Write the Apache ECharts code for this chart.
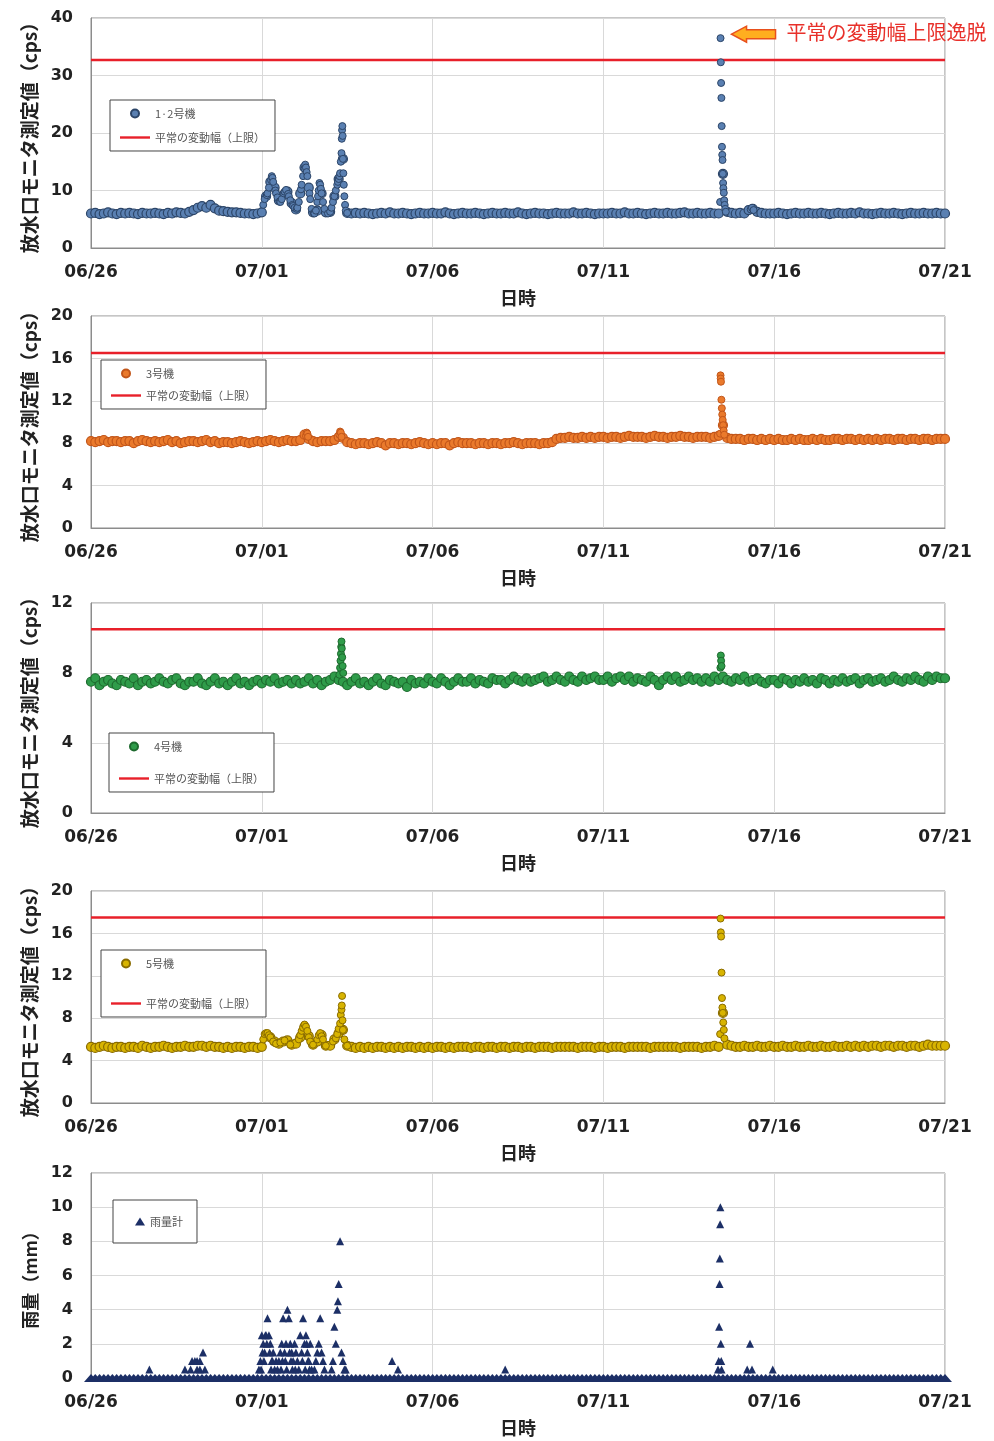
<!DOCTYPE html>
<html><head><meta charset="utf-8">
<script src="https://cdn.jsdelivr.net/npm/echarts@6/dist/echarts.min.js"></script>
<style>html,body{margin:0;padding:0;background:#fff}#c{width:994px;height:1441px}</style>
</head><body><div id="c"></div>
<script>
// x axis: hours from 06/26 00:00
const xTickLabels = ['06/26','07/01','07/06','07/11','07/16','07/21'];
const stepHours = 3; // spacing of the base readings below
const thresholdNames = '平常の変動幅（上限）';
const thresholds = [32.7, 16.5, 10.5, 17.5];
const seriesNames = ['1·2号機','3号機','4号機','5号機','雨量計'];

const unit12Base = [
6.0,6.1,5.9,6.0,6.2,6.0,5.9,6.1,
6.0,6.1,6.0,5.9,6.1,6.0,6.0,6.1,
6.0,5.9,6.1,6.0,6.2,6.1,6.0,6.3,
6.6,7.0,7.3,7.0,7.5,6.9,6.5,6.4,
6.3,6.2,6.2,6.1,6.0,6.0,5.9,6.0,
6.2,9.0,11.5,10.5,8.3,9.2,9.8,7.8,
6.7,9.5,14.0,10.5,6.2,6.5,9.5,6.2,
6.3,9.0,12.0,15.5,6.1,6.0,6.1,6.0,
6.1,6.0,5.9,6.0,6.1,6.0,6.2,6.0,
6.0,6.1,6.0,5.9,6.0,6.1,6.0,6.0,
6.1,6.0,6.0,6.2,6.0,5.9,6.0,6.1,
6.0,6.0,6.1,6.0,5.9,6.0,6.1,6.0,
6.0,6.1,6.0,6.0,6.2,6.0,5.9,6.0,
6.1,6.0,6.0,5.9,6.0,6.1,6.0,6.0,
6.0,6.2,6.0,6.0,6.1,6.0,5.9,6.0,
6.0,6.0,6.1,6.0,6.0,6.2,6.0,6.0,
6.1,6.0,5.9,6.0,6.1,6.0,6.0,6.1,
6.0,6.0,6.1,6.2,6.0,6.0,6.1,6.0,
6.0,6.1,6.0,6.0,12.9,6.3,6.1,6.0,
6.1,6.0,6.6,6.8,6.3,6.1,6.0,6.0,
6.0,6.1,6.0,5.9,6.0,6.1,6.0,6.0,
6.1,6.0,6.0,6.1,6.0,5.9,6.0,6.1,
6.0,6.0,6.1,6.0,6.2,6.0,6.0,5.9,
6.0,6.1,6.0,6.0,6.1,6.0,5.9,6.0,
6.1,6.0,6.0,6.1,6.0,6.0,6.1,6.0,
6.0];
const unit12Events = [[121,7.5],[122,8.5],[123.5,9.2],[124,9.5],[125,10.5],[126.5,11.8],[127,12.5],[127.5,12.2],[128,11.5],[129.5,10.0],[130,9.5],[131,8.8],[132.5,8.1],[133,8.0],[134,8.5],[135.5,9.5],[136,9.8],[137,10.1],[138.5,9.4],[139,9.0],[140,8.3],[141.5,7.5],[142,7.3],[143,7.0],[144.5,6.8],[145,7.0],[146,8.0],[147.5,10.2],[148,11.0],[149,12.5],[150,13.8],[150.5,14.5],[151,14.0],[151.5,13.2],[152,12.5],[153.5,9.5],[154,8.5],[155,6.8],[156.5,6.1],[157,6.0],[158,6.5],[159,8.0],[159.5,9.0],[160,10.0],[160.5,11.3],[161,11.0],[161.5,10.3],[162,9.5],[163,8.0],[164,6.8],[166.5,6.0],[168,6.3],[169,7.0],[170,8.0],[171,9.0],[172,10.0],[173,11.0],[173.5,11.5],[174,12.0],[174.5,12.5],[175,13.0],[175.5,15.0],[176,16.5],[176.2,19.0],[176.4,20.5],[176.6,21.2],[176.8,19.5],[177,15.5],[177.3,13.0],[177.6,11.0],[178,9.0],[178.5,7.5],[179,6.5],[180,6.1],
[442.0,8.0],[442.3,36.5],[442.5,32.3],[442.7,28.7],[442.9,26.1],[443.1,21.2],[443.3,17.6],[443.5,16.2],[443.7,15.3],[443.9,12.9],[444.1,11.3],[444.3,10.4],[444.6,9.6],[444.9,8.3],[445.2,7.5],[445.6,6.8],[446,6.3],[463.5,6.7],[464.4,7.0],[465.5,6.6]];

const unit3Base = [
8.2,8.1,8.2,8.3,8.1,8.2,8.2,8.1,
8.2,8.2,8.0,8.2,8.3,8.2,8.1,8.2,
8.1,8.2,8.3,8.1,8.2,8.0,8.1,8.2,
8.2,8.1,8.2,8.3,8.1,8.2,8.0,8.1,
8.1,8.0,8.1,8.2,8.1,8.0,8.1,8.2,
8.1,8.2,8.3,8.2,8.1,8.2,8.3,8.2,
8.2,8.3,8.8,8.4,8.2,8.1,8.2,8.2,
8.2,8.3,8.6,8.5,8.1,8.0,7.9,8.0,
8.0,7.9,8.0,8.1,8.0,7.8,8.0,8.0,
7.9,8.0,8.0,7.9,8.0,8.1,8.0,7.9,
8.0,7.9,8.0,8.0,7.8,8.0,8.1,8.0,
8.0,8.0,7.9,8.0,8.0,7.9,8.0,8.0,
7.9,8.0,8.0,8.1,8.0,7.9,8.0,8.0,
8.0,7.9,8.0,8.0,8.1,8.4,8.5,8.5,
8.6,8.5,8.5,8.6,8.5,8.6,8.5,8.6,
8.6,8.5,8.6,8.6,8.5,8.6,8.7,8.6,
8.6,8.6,8.5,8.6,8.7,8.6,8.6,8.5,
8.6,8.6,8.7,8.6,8.6,8.5,8.6,8.6,
8.6,8.5,8.6,8.7,9.7,8.5,8.4,8.4,
8.4,8.3,8.4,8.4,8.3,8.4,8.3,8.4,
8.3,8.4,8.3,8.3,8.4,8.3,8.4,8.3,
8.3,8.4,8.3,8.4,8.3,8.3,8.4,8.4,
8.3,8.4,8.4,8.3,8.4,8.3,8.4,8.3,
8.4,8.3,8.4,8.4,8.3,8.4,8.4,8.3,
8.4,8.4,8.3,8.4,8.4,8.3,8.4,8.4,
8.4];
const unit3Events = [[151,8.7],[151.5,9.0],[152,8.9],[152.5,8.6],[174.5,8.8],[175,9.1],[175.5,9.0],[176,8.6],[442.0,8.9],[442.3,14.4],[442.4,14.1],[442.6,13.8],[442.9,12.1],[443.2,11.3],[443.5,10.7],[443.8,10.2],[444.1,9.7],[444.5,9.2],[444.9,8.8]];

const unit4Base = [
7.5,7.7,7.3,7.5,7.6,7.4,7.3,7.6,
7.5,7.4,7.7,7.3,7.5,7.6,7.4,7.5,
7.7,7.5,7.4,7.6,7.7,7.4,7.3,7.5,
7.5,7.7,7.4,7.3,7.5,7.7,7.4,7.5,
7.3,7.5,7.7,7.4,7.5,7.3,7.5,7.6,
7.4,7.6,7.5,7.7,7.4,7.5,7.6,7.4,
7.6,7.4,7.5,7.7,7.4,7.6,7.3,7.5,
7.6,7.8,7.6,7.5,7.3,7.5,7.7,7.4,
7.5,7.3,7.5,7.7,7.4,7.3,7.6,7.5,
7.4,7.5,7.2,7.6,7.4,7.5,7.4,7.7,
7.5,7.4,7.7,7.5,7.3,7.5,7.7,7.5,
7.5,7.7,7.4,7.6,7.5,7.4,7.7,7.6,
7.6,7.4,7.6,7.8,7.6,7.5,7.7,7.5,
7.6,7.7,7.8,7.5,7.6,7.8,7.6,7.5,
7.8,7.6,7.5,7.8,7.6,7.7,7.8,7.6,
7.6,7.8,7.5,7.7,7.8,7.6,7.8,7.5,
7.7,7.6,7.5,7.8,7.6,7.3,7.6,7.8,
7.6,7.8,7.5,7.6,7.8,7.6,7.7,7.5,
7.7,7.5,7.8,7.6,7.8,7.6,7.5,7.7,
7.6,7.8,7.5,7.6,7.7,7.5,7.4,7.6,
7.6,7.4,7.7,7.6,7.4,7.6,7.5,7.7,
7.5,7.6,7.4,7.7,7.6,7.4,7.6,7.5,
7.7,7.5,7.6,7.7,7.4,7.6,7.7,7.5,
7.6,7.7,7.5,7.6,7.8,7.6,7.5,7.7,
7.6,7.8,7.6,7.5,7.8,7.6,7.8,7.7,
7.7];
const unit4Events = [[174.5,7.9],[175,8.3],[175.3,8.7],[175.6,9.1],[175.8,9.5],[176,9.8],[176.2,9.4],[176.5,8.9],[176.8,8.4],[177.2,8.0],[442.2,8.3],[442.5,9.0],[442.7,8.7],[443,8.4]];

const unit5Base = [
5.3,5.2,5.3,5.4,5.3,5.2,5.3,5.3,
5.2,5.3,5.3,5.2,5.4,5.3,5.2,5.3,
5.3,5.4,5.3,5.2,5.3,5.3,5.4,5.3,
5.3,5.4,5.4,5.3,5.4,5.3,5.3,5.2,
5.3,5.2,5.3,5.3,5.2,5.3,5.3,5.2,
5.3,6.3,6.2,5.8,5.6,5.8,5.9,5.5,
5.6,6.2,7.2,6.3,5.5,5.8,6.4,5.4,
5.4,6.0,6.6,6.9,5.4,5.3,5.2,5.3,
5.2,5.3,5.2,5.3,5.3,5.2,5.3,5.2,
5.3,5.2,5.3,5.3,5.2,5.3,5.2,5.3,
5.2,5.3,5.3,5.2,5.3,5.2,5.3,5.3,
5.3,5.2,5.3,5.3,5.2,5.3,5.3,5.2,
5.3,5.3,5.2,5.3,5.3,5.2,5.3,5.3,
5.2,5.3,5.3,5.3,5.2,5.3,5.3,5.3,
5.3,5.3,5.2,5.3,5.3,5.3,5.2,5.3,
5.3,5.2,5.3,5.3,5.3,5.2,5.3,5.3,
5.3,5.3,5.3,5.2,5.3,5.3,5.3,5.3,
5.3,5.3,5.2,5.3,5.3,5.3,5.3,5.2,
5.3,5.3,5.4,5.3,8.5,5.5,5.4,5.3,
5.3,5.4,5.3,5.3,5.4,5.3,5.3,5.4,
5.3,5.3,5.4,5.3,5.3,5.4,5.3,5.3,
5.4,5.3,5.3,5.4,5.3,5.3,5.4,5.3,
5.3,5.4,5.3,5.4,5.3,5.4,5.3,5.4,
5.4,5.3,5.4,5.4,5.3,5.4,5.4,5.3,
5.4,5.4,5.3,5.4,5.5,5.4,5.4,5.4,
5.4];
const unit5Events = [[121,6.0],[122,6.5],[123,6.6],[124,6.6],[125,6.4],[126,6.2],[128,5.8],[130,5.6],[133,5.7],[136,5.9],[140,5.5],[146,6.0],[147,6.4],[148,6.8],[149,7.1],[150,7.4],[151,7.2],[152,6.8],[153,6.2],[154,5.8],[156,5.5],[159,6.0],[160,6.4],[161,6.6],[162,6.3],[163,6.0],[165,5.4],[170,5.8],[172,6.1],[173,6.5],[174,7.0],[175,7.5],[175.5,8.3],[176,8.8],[176.2,9.2],[176.4,10.1],[176.7,7.8],[177,6.9],[178,6.0],[180,5.4],[442.0,6.5],[442.3,17.4],[442.5,16.1],[442.7,15.7],[443,12.3],[443.3,9.9],[443.6,9.0],[443.9,8.5],[444.2,7.6],[444.6,6.9],[445,6.1]];

const rainBase = [
0,0,0,0,0,0,0,0, 0,0,0,0,0,0,0,0, 0,0,0,0,0,0,0,0, 0,0,0,0,0,0,0,0, 0,0,0,0,0,0,0,0,
0,0,0,0,0,0,0,0, 0,0,0,0,0,0,0,0, 0,0,0,0,0,0,0,0, 0,0,0,0,0,0,0,0, 0,0,0,0,0,0,0,0,
0,0,0,0,0,0,0,0, 0,0,0,0,0,0,0,0, 0,0,0,0,0,0,0,0, 0,0,0,0,0,0,0,0, 0,0,0,0,0,0,0,0,
0,0,0,0,0,0,0,0, 0,0,0,0,0,0,0,0, 0,0,0,0,0,0,0,0, 0,0,0,0,0,0,0,0, 0,0,0,0,0,0,0,0,
0,0,0,0,0,0,0,0, 0,0,0,0,0,0,0,0, 0,0,0,0,0,0,0,0, 0,0,0,0,0,0,0,0, 0,0,0,0,0,0,0,0,
0];
const rainEvents = [[41,0.5],[66,0.5],[70,0.5],[71,1.0],[73,1.0],[74.5,1.0],[74.5,0.5],[76.5,0.5],[76.5,1.0],[78.7,1.5],[80,0.5],
[118,0.5],[119,1.0],[120,2.5],[121,2.0],[122,1.5],[123,2.5],[124,3.5],[125,2.5],[126,2.0],[127,1.0],[128,1.5],[129,0.5],[130,1.0],[131,0.5],
[119.5,0.5],[120.5,1.5],[121.5,1.0],[122.5,2.5],[123.5,2.0],[125.5,1.5],[126.5,0.5],[127.5,1.0],
[132,1.0],[133,1.5],[134,2.0],[135,3.5],[136,1.5],[137,2.0],[138,4.0],[139,3.5],[140,2.0],[141,1.5],[142,1.0],[143,2.0],[144,1.5],[145,1.0],[146,0.5],
[133.5,0.5],[134.5,1.0],[136.5,1.0],[137.5,0.5],[139.5,1.5],[140.5,1.0],[141.5,0.5],[143.5,0.5],
[147,2.5],[148,1.5],[149,3.5],[150,2.0],[151,2.5],[152,1.5],[153,1.0],[154,2.0],[155,0.5],
[148.5,1.0],[150.5,0.5],[151.5,2.0],[152.5,1.0],[153.5,0.5],
[157,0.5],[158,1.0],[159,1.5],[160,2.0],[161,3.5],[162,1.5],[163,1.0],[164,0.5],
[169,0.5],[170,1.0],[171,3.0],[172,2.0],[173,4.0],[173.5,4.5],[174,5.5],[175,8.0],[176,1.5],[177,1.0],[178,0.5],[179,0.5],
[211.5,1.0],[215.7,0.5],[291,0.5],
[440.5,0.5],[441,1.0],[441.3,3.0],[441.6,5.5],[441.8,7.0],[442,9.0],[442.2,10.0],[442.5,2.0],[442.8,1.0],[443,0.5],
[461,0.5],[463,2.0],[464.4,0.5],[479,0.5]];

const panelMax = [40, 20, 12, 20, 12];
const panelInterval = [10, 4, 4, 4, 2];

const grids = [
  {top:18, height:230},{top:316, height:212},{top:603, height:210},{top:891, height:212},{top:1173, height:205}
];
const yNames = ['放水口モニタ測定値（cps）','放水口モニタ測定値（cps）','放水口モニタ測定値（cps）','放水口モニタ測定値（cps）','雨量（mm）'];
const colors = [
  {fill:'#5a80b2', border:'#2c4568'},
  {fill:'#ea7a2c', border:'#c2561a'},
  {fill:'#2f9c4a', border:'#1d6a2e'},
  {fill:'#d8b400', border:'#8a6c00'},
  {fill:'#1c2f66', border:'#1c2f66'}
];

const baseArrays = [unit12Base, unit3Base, unit4Base, unit5Base, rainBase];
const eventArrays = [unit12Events, unit3Events, unit4Events, unit5Events, rainEvents];

const CJK = 'Noto Sans CJK JP';
const NUM = 'DejaVu Sans';
const xMax = (xTickLabels.length - 1) * 120;

const option = {
  animation: false,
  backgroundColor: '#fff',
  grid: grids.map(g => ({left:91, right:49, top:g.top, height:g.height, show:true, borderColor:'#8c8c8c', borderWidth:1, backgroundColor:'#fff'})),
  xAxis: grids.map((g,i) => ({
    type:'value', gridIndex:i, min:0, max:xMax, interval:120,
    axisLine:{show:true, lineStyle:{color:'#8c8c8c'}},
    axisTick:{show:false},
    splitLine:{show:true, lineStyle:{color:'#d9d9d9', width:1}},
    axisLabel:{formatter: v => xTickLabels[Math.round(v/120)], fontSize:17, fontWeight:'bold', color:'#222', fontFamily:NUM, margin:16},
    name:'日時', nameLocation:'middle', nameGap:41,
    nameTextStyle:{fontSize:18, fontWeight:'bold', color:'#222', fontFamily:CJK}
  })),
  yAxis: grids.map((g,i) => ({
    type:'value', gridIndex:i, min:0, max:panelMax[i], interval:panelInterval[i],
    axisLine:{show:true, lineStyle:{color:'#8c8c8c'}},
    axisTick:{show:false},
    splitLine:{show:true, lineStyle:{color:'#d9d9d9', width:1}},
    axisLabel:{fontSize:16, fontWeight:'bold', color:'#222', fontFamily:NUM, margin:18},
    name:yNames[i], nameLocation:'middle', nameGap:52, nameRotate:90,
    nameTextStyle:{fontSize: i === 4 ? 18 : 19, fontWeight:'bold', color:'#222', fontFamily:CJK}
  })),
  legend: [],
  series: []
};

const lineIcon = 'path://M0,0 H30 V2.4 H0 Z';
const legendPos = [
  {left:110, top:100, gap:13},
  {left:101, top:360, gap:11},
  {left:109, top:733, gap:21},
  {left:101, top:950, gap:29},
  {left:113, top:1200, gap:10}
];

for (let i = 0; i < 5; i++) {
  const isRain = i === 4;
  const baseData = baseArrays[i].map((v, k) => [k * stepHours, v]);
  // dense base band
  option.series.push({
    type:'scatter', name:seriesNames[i], xAxisIndex:i, yAxisIndex:i, data:baseData,
    symbol: isRain ? 'triangle' : 'circle', symbolSize: isRain ? [14, 8] : 9,
    itemStyle:{color:colors[i].fill, borderColor:colors[i].border, borderWidth: isRain ? 0 : 1.2, opacity:1},
    z:3, clip:false
  });
  // event readings
  option.series.push({
    type:'scatter', name:seriesNames[i], xAxisIndex:i, yAxisIndex:i, data:eventArrays[i],
    symbol: isRain ? 'triangle' : 'circle', symbolSize: isRain ? 8 : 7,
    itemStyle:{color:colors[i].fill, borderColor:colors[i].border, borderWidth: isRain ? 0 : 1, opacity:1},
    z:4, clip:false
  });
  if (!isRain) {
    option.series.push({
      type:'line', name:thresholdNames, xAxisIndex:i, yAxisIndex:i,
      data:[[0, thresholds[i]], [xMax, thresholds[i]]],
      showSymbol:false, symbol:'none',
      lineStyle:{color:'#e8202a', width:2.5}, itemStyle:{color:'#e8202a'}, z:2
    });
  }
  const lp = legendPos[i];
  option.legend.push({
    left:lp.left, top:lp.top, orient:'vertical', selectedMode:false,
    backgroundColor:'#fff', borderColor:'#444', borderWidth:1, borderRadius:0,
    padding: isRain ? [16,14,16,22] : [8,10,8,10],
    itemWidth: isRain ? 10 : 30, itemHeight: 8, itemGap: lp.gap,
    textStyle:{fontSize:11, color:'#555', fontFamily:CJK},
    data: isRain ? [{name:seriesNames[i], icon:'triangle'}] :
      [{name:seriesNames[i], icon:'circle'}, {name:thresholdNames, icon:lineIcon}]
  });
}

const chart = echarts.init(document.getElementById('c'), null, {renderer:'canvas'});
chart.setOption(option);

// annotation at the highest 1·2号機 reading
let peak = unit12Events[0];
unit12Events.forEach(p => { if (p[1] > peak[1]) peak = p; });
const px = chart.convertToPixel({xAxisIndex:0, yAxisIndex:0}, peak);
const tx = px[0] + 11, ty = px[1] - 4;
chart.setOption({
  graphic: [
    {type:'polygon', shape:{points:[[tx,ty],[tx+15,ty-8],[tx+15,ty-4.5],[tx+44,ty-4.5],[tx+44,ty+4.5],[tx+15,ty+4.5],[tx+15,ty+8]]},
     style:{fill:'#ffae1f', stroke:'#e8501c', lineWidth:1.5}, z:10},
    {type:'text', left: tx + 55, top: ty - 12,
     style:{text:'平常の変動幅上限逸脱', fill:'#e8302a', font:'20px "Noto Sans CJK JP"'}, z:10}
  ]
});
</script>
</body></html>
